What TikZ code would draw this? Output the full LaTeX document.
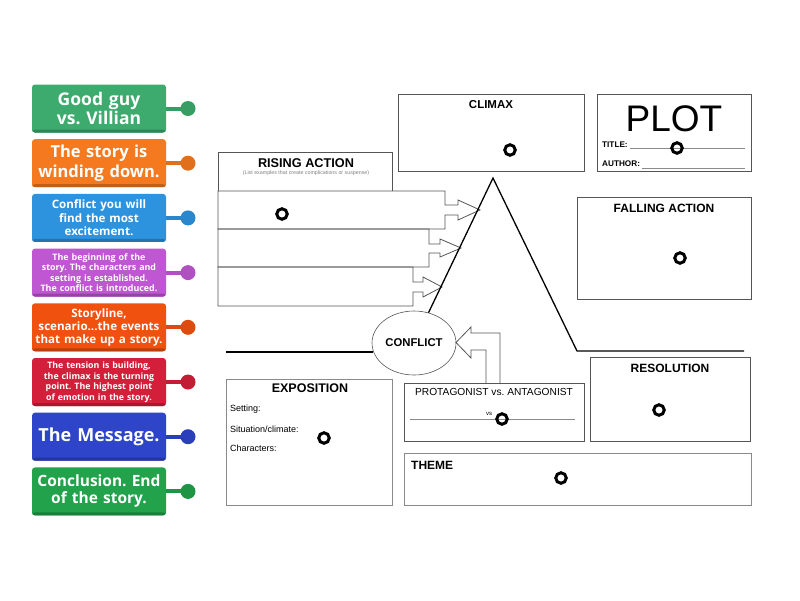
\documentclass[tikz,border=0pt]{standalone}
\usepackage{fontspec}
\setmainfont{Liberation Sans}
\newfontfamily\tilefont{Open Sans}
\usetikzlibrary{shapes.geometric}
\frenchspacing
\definecolor{tA}{HTML}{3DAA6E}
\definecolor{tB}{HTML}{F57A1F}
\definecolor{tC}{HTML}{2D93DF}
\definecolor{tD}{HTML}{BF57D2}
\definecolor{tE}{HTML}{F0510F}
\definecolor{tF}{HTML}{D41F3B}
\definecolor{tG}{HTML}{2E44C9}
\definecolor{tH}{HTML}{21A24B}
\definecolor{edge}{HTML}{555555}
\definecolor{lightedge}{HTML}{8A8A8A}
\tikzset{
  box/.style={draw=edge, line width=0.8pt},
  lbox/.style={draw=lightedge, line width=0.9pt},
  marker/.style={circle, draw=black, line width=3pt, inner sep=0pt, minimum size=10.5pt},
  tilebox/.style={rounded corners=3pt, minimum width=134pt, minimum height=48pt, inner sep=1pt,
    text=white, align=center, text width=130pt,
    path picture={\fill[#1!78!black] ([yshift=3pt]path picture bounding box.south west) rectangle (path picture bounding box.south east);},
    fill=#1},
  head/.style={font=\bfseries\fontsize{12}{14}\selectfont},
}
\newcommand\mytile[6]{%
  \node[tilebox=#3, font=\tilefont\bfseries\fontsize{#4}{#5}\selectfont] (#1) at (99,#2) {#6};
  \node[circle, fill=#3!92!black, minimum size=15pt, inner sep=0pt] (#1c) at (188,#2) {};
  \draw[#3!92!black, line width=4pt] (#1.east) -- (#1c.center);
}
\begin{document}
\begin{tikzpicture}[x=1pt,y=-1pt]
\useasboundingbox[fill=white] (0,0) rectangle (800,600);

% tiles
\mytile{ta}{108.5}{tA}{17.5}{19.5}{Good guy\\vs. Villian}
\mytile{tb}{163.2}{tB}{16.5}{19.5}{The story is\\winding down.}
\mytile{tc}{217.9}{tC}{11.6}{13.3}{Conflict you will\\find the most\\excitement.}
\mytile{td}{272.6}{tD}{8.9}{10.3}{The beginning of the\\story. The characters and\\setting is established.\\The conflict is introduced.}
\mytile{te}{327.3}{tE}{11.6}{13.3}{Storyline,\\scenario...the events\\that make up a story.}
\mytile{tf}{382.0}{tF}{8.8}{10.5}{The tension is building,\\the climax is the turning\\point. The highest point\\of emotion in the story.}
\mytile{tg}{436.7}{tG}{18}{20}{The Message.}
\mytile{th}{491.4}{tH}{15.5}{17}{Conclusion. End\\of the story.}

% CLIMAX box
\draw[box] (398,94) rectangle (584,171);
\node[font=\bfseries\fontsize{11.5}{13}\selectfont] (climaxT) at (491,105) {CLIMAX};
\node[marker] (mClimax) at (510,150) {};

% PLOT box
\draw[box] (597,94) rectangle (751,171);
\node[font=\fontsize{37}{40}\selectfont] (plotT) at (674,119) {PLOT};
\node[anchor=west, font=\bfseries\fontsize{8.2}{9}\selectfont, inner sep=0pt] (titleL) at (602,145) {TITLE:};
\node[anchor=west, font=\bfseries\fontsize{8.2}{9}\selectfont, inner sep=0pt] (authorL) at (602,164) {AUTHOR:};
\coordinate (tle) at (745,148);
\coordinate (ale) at (745,168);
\draw[lightedge, line width=0.7pt] (titleL.east |- tle) ++(2,0) -- (tle);
\draw[lightedge, line width=0.7pt] (authorL.east |- ale) ++(2,0) -- (ale);
\node[marker] (mPlot) at (677,148) {};

% RISING ACTION
\draw[box] (218,191) -- (218,152) -- (392,152) -- (392,191);
\node[font=\bfseries\fontsize{12.7}{14}\selectfont] (risingT) at (306,163) {RISING ACTION};
\node[font=\fontsize{5.3}{6}\selectfont, text=gray] (risingS) at (306,173) {(List examples that create complications or suspense)};
\draw[box] (218,191) -- (445,191) -- (445,205) -- (458,205) -- (458,200) -- (480,210) -- (458,220) -- (458,215) -- (445,215) -- (445,229) -- (218,229) -- cycle;
\draw[box] (218,229) -- (429,229) -- (429,244) -- (440,244) -- (440,239) -- (461,248) -- (440,257) -- (440,253) -- (429,253) -- (429,267) -- (218,267) -- cycle;
\draw[box] (218,267) -- (413,267) -- (413,282) -- (423,282) -- (423,277) -- (442,287) -- (423,297) -- (423,292) -- (413,292) -- (413,306) -- (218,306) -- cycle;
\node[marker] (mRising) at (282,214) {};

% triangle and conflict
\node[ellipse, draw=edge, line width=0.6pt, minimum width=84pt, minimum height=64pt, inner sep=0pt,
      font=\bfseries\fontsize{11.3}{13}\selectfont] (conflict) at (414,343) {CONFLICT};
\coordinate (apex) at (493,178);
\coordinate (rb) at (577,351);
\coordinate (re) at (744,351);
\coordinate (lb) at (226,352);
\coordinate (lc) at (373,352);
\draw[black, line width=1.3pt] (conflict) -- (apex) -- (rb) -- (re);
\draw[black, line width=1.3pt] (lb) -- (lc);

% FALLING ACTION
\draw[box] (577,197) rectangle (751,299);
\node[head] (fallingT) at (664,208) {FALLING ACTION};
\node[marker] (mFalling) at (680,258) {};

% PROTAGONIST box and arrow
\draw[box] (404,383) rectangle (584,441);
\draw[box] (486,383) -- (486,350) -- (471,350) -- (471,358) -- (456,342.5) -- (471,327) -- (471,333) -- (500,333) -- (500,383);
\node[font=\fontsize{10.2}{12}\selectfont] (protT) at (494,392) {PROTAGONIST vs. ANTAGONIST};
\draw[lightedge, line width=0.8pt] (410,419) -- (575,419);
\node[font=\fontsize{6}{7}\selectfont, inner sep=0pt] (vsT) at (489,414) {vs};
\node[marker] (mProt) at (502,419) {};

% RESOLUTION
\draw[box] (590,357) rectangle (750,441);
\node[head] (resT) at (670,368) {RESOLUTION};
\node[marker] (mRes) at (659,410) {};

% EXPOSITION
\draw[lbox] (226,379) rectangle (392,505);
\node[font=\bfseries\fontsize{12.5}{14}\selectfont] (expT) at (310,388) {EXPOSITION};
\node[anchor=west, inner sep=0pt, font=\fontsize{9}{10}\selectfont] (setL) at (230,409) {Setting:};
\node[anchor=west, inner sep=0pt, font=\fontsize{9}{10}\selectfont] (sitL) at (230,429) {Situation/climate:};
\node[anchor=west, inner sep=0pt, font=\fontsize{9}{10}\selectfont] (charL) at (230,448) {Characters:};
\node[marker] (mExp) at (324,438) {};

% THEME
\draw[lbox] (404,453) rectangle (751,505);
\node[anchor=west, inner sep=0pt, font=\bfseries\fontsize{12}{14}\selectfont] (themeT) at (411,465) {THEME};
\node[marker] (mTheme) at (561,478) {};
\end{tikzpicture}
\end{document}
